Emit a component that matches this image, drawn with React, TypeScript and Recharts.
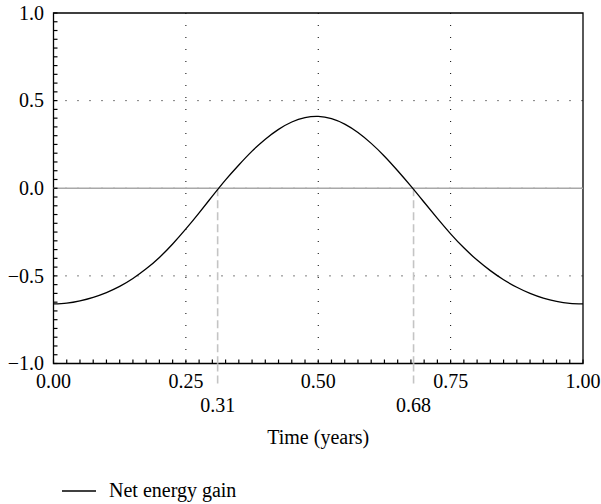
import {
  CartesianGrid,
  Legend,
  Line,
  LineChart,
  ReferenceArea,
  ReferenceLine,
  XAxis,
  YAxis,
} from "recharts"

// time in years, sampled every 0.025
const TIME = [
  0, 0.025, 0.05, 0.075, 0.1, 0.125, 0.15, 0.175, 0.2, 0.225, 0.25, 0.275,
  0.3, 0.325, 0.35, 0.375, 0.4, 0.425, 0.45, 0.475, 0.5, 0.525, 0.55, 0.575,
  0.6, 0.625, 0.65, 0.675, 0.7, 0.725, 0.75, 0.775, 0.8, 0.825, 0.85, 0.875,
  0.9, 0.925, 0.95, 0.975, 1,
]
const NET_GAIN = [
  -0.66, -0.655, -0.642, -0.622, -0.595, -0.56, -0.515, -0.46, -0.395, -0.318,
  -0.232, -0.14, -0.045, 0.048, 0.133, 0.212, 0.28, 0.336, 0.378, 0.403, 0.41,
  0.397, 0.366, 0.318, 0.256, 0.183, 0.1, 0.012, -0.08, -0.172, -0.26, -0.34,
  -0.41, -0.47, -0.522, -0.565, -0.6, -0.627, -0.646, -0.657, -0.66,
]
const X_LABELS = [0, 0.25, 0.5, 0.75, 1]
const Y_LABELS = [-1, -0.5, 0, 0.5, 1]
const ZERO_CROSSINGS = [0.31, 0.68]
const SERIES_NAME = "Net energy gain"

const data = TIME.map((t, i) => ({ t, gain: NET_GAIN[i] }))

const X_MINOR = Array.from({ length: 41 }, (_, i) => +(i * 0.025).toFixed(3))
const Y_MINOR = Array.from({ length: 41 }, (_, i) => +(-1 + i * 0.05).toFixed(2))

const FONT = "'Liberation Serif', 'Times New Roman', serif"
const TICK_LEN = 4
const INK = "#000"
const DASH_GREY = "#c4c4c4"

const fmtY = (v: number) => v.toFixed(1).replace("-", "\u2212")

function BottomTick(props: any) {
  const { x, y, payload } = props
  const v = payload.value as number
  if (ZERO_CROSSINGS.includes(v)) {
    return (
      <g>
        <line x1={x} x2={x} y1={y} y2={y + 21} stroke={DASH_GREY} strokeWidth={1.6} strokeDasharray="8 4" />
        <text x={x} y={y + 48.5} textAnchor="middle" fontFamily={FONT} fontSize={20} fill={INK}>
          {v.toFixed(2)}
        </text>
      </g>
    )
  }
  return (
    <g>
      <line x1={x} x2={x} y1={y} y2={y - TICK_LEN} stroke={INK} strokeWidth={1.2} />
      {X_LABELS.includes(v) && (
        <text x={x} y={y + 24.5} textAnchor="middle" fontFamily={FONT} fontSize={20} fill={INK}>
          {v.toFixed(2)}
        </text>
      )}
    </g>
  )
}

function TopTick(props: any) {
  const { x, y } = props
  return <line x1={x} x2={x} y1={y} y2={y + TICK_LEN} stroke={INK} strokeWidth={1.2} />
}

function LeftTick(props: any) {
  const { x, y, payload } = props
  const v = payload.value as number
  return (
    <g>
      <line x1={x} x2={x + TICK_LEN} y1={y} y2={y} stroke={INK} strokeWidth={1.2} />
      {Y_LABELS.includes(v) && (
        <text x={x - 9.5} y={y} dy="0.34em" textAnchor="end" fontFamily={FONT} fontSize={20} fill={INK}>
          {fmtY(v)}
        </text>
      )}
    </g>
  )
}

function RightTick(props: any) {
  const { x, y } = props
  return <line x1={x} x2={x - TICK_LEN} y1={y} y2={y} stroke={INK} strokeWidth={1.2} />
}

function LegendContent() {
  return (
    <div style={{ display: "flex", alignItems: "center", fontFamily: FONT, fontSize: 20, color: INK }}>
      <svg width={34} height={4} style={{ marginRight: 13 }}>
        <line x1={0} x2={34} y1={2} y2={2} stroke={INK} strokeWidth={1.3} />
      </svg>
      <span>{SERIES_NAME}</span>
    </div>
  )
}

export default function App() {
  return (
    <div style={{ position: "absolute", left: 0, top: 0, background: "#fff" }}>
      <LineChart
        width={601}
        height={504}
        data={data}
        margin={{ top: 13, right: 18, bottom: 0, left: 0 }}
      >
        <CartesianGrid
          horizontal
          vertical
          horizontalValues={[-0.5, 0, 0.5]}
          verticalValues={[0.25, 0.5, 0.75]}
          stroke={INK}
          strokeWidth={1}
          strokeDasharray="1 11"
        />
        <XAxis
          dataKey="t"
          type="number"
          domain={[0, 1]}
          ticks={[...X_MINOR, ...ZERO_CROSSINGS]}
          interval={0}
          height={140.5}
          axisLine={false}
          tickLine={false}
          tickSize={0}
          tickMargin={0}
          tick={BottomTick}
          label={{
            content: ({ viewBox }: any) => (
              <text
                x={viewBox.x + viewBox.width / 2}
                y={viewBox.y + 80}
                textAnchor="middle"
                fontFamily={FONT}
                fontSize={20}
                fill={INK}
              >
                Time (years)
              </text>
            ),
          }}
        />
        <XAxis
          xAxisId="top"
          orientation="top"
          type="number"
          domain={[0, 1]}
          ticks={X_MINOR}
          interval={0}
          height={0}
          axisLine={false}
          tickLine={false}
          tickSize={0}
          tickMargin={0}
          tick={TopTick}
        />
        <YAxis
          type="number"
          domain={[-1, 1]}
          ticks={Y_MINOR}
          interval={0}
          width={53.5}
          axisLine={false}
          tickLine={false}
          tickSize={0}
          tickMargin={0}
          tick={LeftTick}
        />
        <YAxis
          yAxisId="right"
          orientation="right"
          type="number"
          domain={[-1, 1]}
          ticks={Y_MINOR}
          interval={0}
          width={0}
          axisLine={false}
          tickLine={false}
          tickSize={0}
          tickMargin={0}
          tick={RightTick}
        />
        <ReferenceLine y={0} stroke="#a8a8a8" strokeWidth={1.6} />
        {ZERO_CROSSINGS.map((c) => (
          <ReferenceLine
            key={c}
            segment={[
              { x: c, y: 0 },
              { x: c, y: -1 },
            ]}
            stroke={DASH_GREY}
            strokeWidth={1.6}
            strokeDasharray="8 4"
          />
        ))}
        <ReferenceArea x1={0} x2={1} y1={-1} y2={1} fill="none" stroke={INK} strokeWidth={1.3} />
        <Line
          type="natural"
          dataKey="gain"
          name={SERIES_NAME}
          stroke={INK}
          strokeWidth={1.3}
          dot={false}
          isAnimationActive={false}
        />
        <Legend
          layout="vertical"
          align="center"
          verticalAlign="middle"
          wrapperStyle={{ left: 62, top: 479, width: "auto" }}
          content={LegendContent}
        />
      </LineChart>
    </div>
  )
}
